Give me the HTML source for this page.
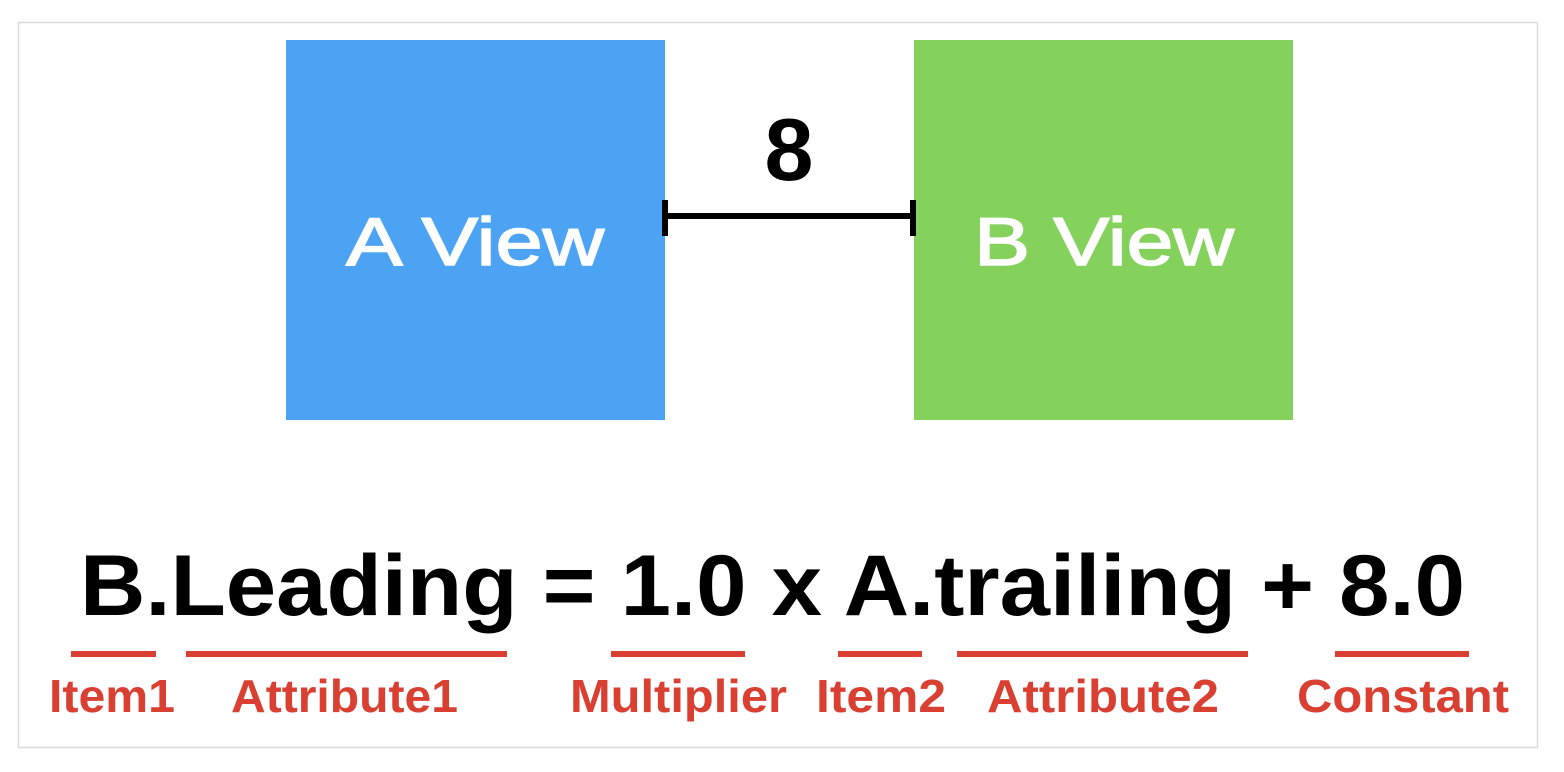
<!DOCTYPE html>
<html><head><style>
html,body{margin:0;padding:0;background:#fff;}
svg{display:block;}
</style></head><body>
<svg width="1564" height="772" viewBox="0 0 1564 772" xmlns="http://www.w3.org/2000/svg">
<rect x="0" y="0" width="1564" height="772" fill="#fff"/>
<rect x="18.5" y="22.5" width="1519" height="725" fill="#fff" stroke="#dcdcdc" stroke-width="1.5"/>
<rect x="286" y="40" width="379" height="380" fill="#4ca3f3"/>
<rect x="914" y="40" width="379" height="380" fill="#84d15c"/>
<g font-family="Liberation Sans, sans-serif" fill="#fff" stroke="#fff" stroke-width="1.5" font-size="68" text-anchor="middle">
<text x="475" y="265" textLength="258" lengthAdjust="spacingAndGlyphs">A View</text>
<text x="1104" y="265" textLength="260" lengthAdjust="spacingAndGlyphs">B View</text>
</g>
<rect x="664" y="213" width="252" height="6" fill="#000"/>
<rect x="662" y="200" width="6" height="36" fill="#000"/>
<rect x="910" y="200" width="6" height="36" fill="#000"/>
<text x="789" y="180" font-family="Liberation Sans, sans-serif" font-weight="bold" font-size="88" text-anchor="middle">8</text>
<text x="80" y="615" font-family="Liberation Sans, sans-serif" font-weight="bold" font-size="86" textLength="1385" lengthAdjust="spacingAndGlyphs">B.Leading = 1.0 x A.trailing + 8.0</text>
<g fill="#d94032">
<rect x="71" y="651" width="85" height="6"/>
<rect x="186" y="651" width="321" height="6"/>
<rect x="611" y="651" width="134" height="6"/>
<rect x="838" y="651" width="84" height="6"/>
<rect x="957" y="651" width="291" height="6"/>
<rect x="1335" y="651" width="134" height="6"/>
</g>
<g font-family="Liberation Sans, sans-serif" font-weight="bold" font-size="46" fill="#d94032">
<text x="49" y="712" textLength="126" lengthAdjust="spacingAndGlyphs">Item1</text>
<text x="231" y="712" textLength="227" lengthAdjust="spacingAndGlyphs">Attribute1</text>
<text x="570" y="712" textLength="217" lengthAdjust="spacingAndGlyphs">Multiplier</text>
<text x="816" y="712" textLength="130" lengthAdjust="spacingAndGlyphs">Item2</text>
<text x="987" y="712" textLength="232" lengthAdjust="spacingAndGlyphs">Attribute2</text>
<text x="1297" y="712" textLength="212" lengthAdjust="spacingAndGlyphs">Constant</text>
</g>
</svg>
</body></html>
